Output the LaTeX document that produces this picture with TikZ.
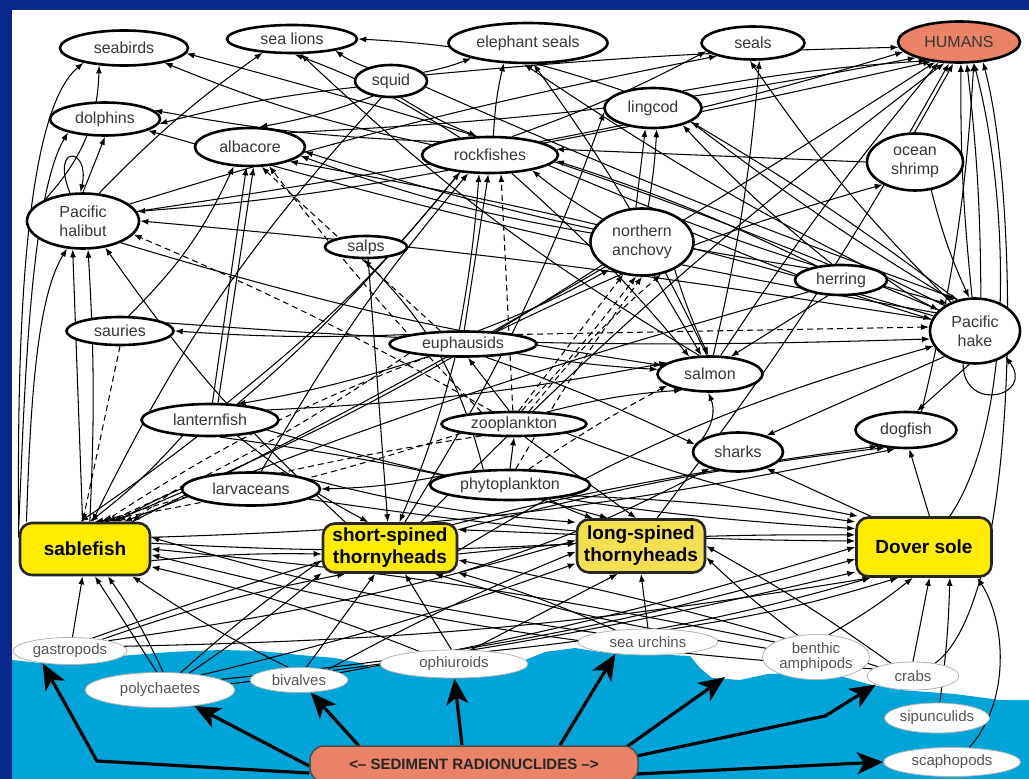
\documentclass[tikz,border=0pt]{standalone}
\usepackage{fontspec}
\setmainfont{Liberation Sans}
\usetikzlibrary{shapes.geometric,arrows.meta,calc}
\pgfdeclarelayer{bgzero}
\pgfdeclarelayer{edgelayer}
\pgfsetlayers{bgzero,edgelayer,main}
\definecolor{frameblue}{RGB}{10,40,140}
\definecolor{sea}{RGB}{0,165,215}
\definecolor{yel}{RGB}{255,236,0}
\definecolor{yeltwo}{RGB}{242,224,80}
\definecolor{salm}{RGB}{233,130,102}
\definecolor{txt}{RGB}{55,55,55}
\definecolor{btxt}{RGB}{85,85,85}
\begin{document}
\begin{tikzpicture}[x=1pt,y=-1pt,
  sp/.style={ellipse,draw=black,line width=2.6pt,fill=white,inner sep=0pt,text=txt,font=\fontsize{16}{19}\selectfont,align=center},
  bn/.style={ellipse,draw=gray!60,line width=0.8pt,fill=white,inner sep=0pt,text=btxt,font=\fontsize{15}{15}\selectfont,align=center},
  fb/.style={rectangle,rounded corners=12pt,draw=black!85,line width=2.6pt,fill=yel,inner sep=0pt,font=\bfseries\fontsize{19}{22}\selectfont,align=center},
  ar/.style={line width=1.05pt,-{Latex[length=8pt,width=6pt]}},
  dar/.style={ar,dash pattern=on 6pt off 4pt},
  big/.style={line width=3.2pt,line join=round,-{Stealth[length=26pt,width=22pt,inset=7pt]}}]
\useasboundingbox (0,0) rectangle (1029,779);
\begin{pgfonlayer}{bgzero}
\fill[frameblue] (0,0) rectangle (1029,779);
\fill[white] (12,10) rectangle (1029,779);
\fill[sea] (12,779) -- (12,660) -- (40,663) -- (80,661) -- (120,656) -- (170,652) -- (220,650) -- (260,651) -- (300,655) -- (335,658) -- (360,663) -- (372,668) -- (385,662) -- (420,668) -- (470,670) -- (520,662) -- (545,652) -- (575,648) -- (600,652) -- (650,654) -- (690,656) -- (700,668) -- (712,678) -- (740,680) -- (768,674) -- (800,673) -- (840,676) -- (868,684) -- (900,690) -- (955,694) -- (1000,700) -- (1029,700) -- (1029,779) -- cycle;
\end{pgfonlayer}

\path
 node[sp,minimum width=128pt,minimum height=35pt] (seabirds) at (124,48) {seabirds}
 node[sp,minimum width=130pt,minimum height=28pt] (sealions) at (292,39) {sea lions}
 node[sp,minimum width=159pt,minimum height=40pt] (eseals) at (528,43) {elephant seals}
 node[sp,minimum width=103pt,minimum height=33pt] (seals) at (753,43) {seals}
 node[sp,fill=salm,minimum width=122pt,minimum height=41pt] (humans) at (959,42) {HUMANS}
 node[sp,minimum width=72pt,minimum height=32pt] (squid) at (391,81) {squid}
 node[sp,minimum width=110pt,minimum height=33pt] (dolphins) at (105,119) {dolphins}
 node[sp,minimum width=97pt,minimum height=40pt] (lingcod) at (653,108) {lingcod}
 node[sp,minimum width=110pt,minimum height=38pt] (albacore) at (250,147) {albacore}
 node[sp,minimum width=136pt,minimum height=36pt] (rock) at (490,155) {rockfishes}
 node[sp,minimum width=96pt,minimum height=57pt] (shrimp) at (915,162) {ocean\\shrimp}
 node[sp,minimum width=112pt,minimum height=55pt] (halibut) at (83,221) {Pacific\\halibut}
 node[sp,minimum width=82pt,minimum height=22pt] (salps) at (366,247) {salps}
 node[sp,minimum width=103pt,minimum height=67pt] (anchovy) at (642,242) {northern\\anchovy}
 node[sp,minimum width=92pt,minimum height=30pt] (herring) at (841,280) {herring}
 node[sp,minimum width=90pt,minimum height=65pt] (hake) at (975,331) {Pacific\\hake}
 node[sp,minimum width=107pt,minimum height=28pt] (sauries) at (120,331) {sauries}
 node[sp,minimum width=147pt,minimum height=25pt] (euph) at (463,344) {euphausids}
 node[sp,minimum width=105pt,minimum height=35pt] (salmon) at (710,374) {salmon}
 node[sp,minimum width=137pt,minimum height=32pt] (lantern) at (210,420) {lanternfish}
 node[sp,minimum width=145pt,minimum height=24pt] (zoo) at (514,424) {zooplankton}
 node[sp,minimum width=90pt,minimum height=39pt] (sharks) at (738,452) {sharks}
 node[sp,minimum width=101pt,minimum height=36pt] (dogfish) at (906,430) {dogfish}
 node[sp,minimum width=138pt,minimum height=33pt] (larv) at (251,489) {larvaceans}
 node[sp,minimum width=160pt,minimum height=30pt] (phyto) at (510,485) {phytoplankton}
 node[fb,minimum width=130pt,minimum height=52pt] (sable) at (85,549) {sablefish}
 node[fb,minimum width=134pt,minimum height=49pt] (sst) at (390,548) {short-spined\\thornyheads}
 node[fb,fill=yeltwo,minimum width=128pt,minimum height=53pt] (lst) at (641,546) {long-spined\\thornyheads}
 node[fb,minimum width=135pt,minimum height=59pt] (dover) at (924,547) {Dover sole}
 node[bn,minimum width=114pt,minimum height=27pt] (gastro) at (70,651) {gastropods}
 node[bn,minimum width=150pt,minimum height=35pt] (poly) at (160,690) {polychaetes}
 node[bn,minimum width=98pt,minimum height=25pt] (biv) at (299,680) {bivalves}
 node[bn,minimum width=148pt,minimum height=28pt] (oph) at (454,664) {ophiuroids}
 node[bn,minimum width=140pt,minimum height=26pt] (urch) at (648,642) {sea urchins}
 node[bn,minimum width=107pt,minimum height=45pt] (amph) at (816,657) {benthic\\amphipods}
 node[bn,minimum width=92pt,minimum height=28pt] (crabs) at (913,676) {crabs}
 node[bn,minimum width=97pt,minimum height=30pt] (sip) at (937,718) {sipunculids}
 node[bn,minimum width=137pt,minimum height=29pt] (scaph) at (952,762) {scaphopods}
 node[rectangle,rounded corners=14pt,fill=salm,draw=black!70,line width=1.5pt,minimum width=328pt,minimum height=36pt,font=\bfseries\fontsize{15}{17}\selectfont,text=black!85] (sed) at (474,764) {<-- SEDIMENT RADIONUCLIDES -->};
\coordinate (amtip) at (725,677);

\begin{pgfonlayer}{edgelayer}
\foreach \a/\b/\c in {
 rock.170/seabirds.-20/5, hake.150/seabirds.-5/-4, halibut.150/seabirds.215/-20,
 halibut.60/sealions.205/5, squid.150/sealions.-15/8, rock.150/sealions.-80/-6,
 salmon.120/sealions.-60/6, lingcod.150/sealions.0/-8,
 hake.140/eseals.-100/4, rock.80/eseals.-140/5, salmon.100/eseals.-75/-5, squid.15/eseals.195/-5,
 rock.40/seals.190/-4, halibut.20/seals.200/3, hake.130/seals.-100/5, salmon.80/seals.-70/-4,
 rock.15/humans.190/-3, albacore.20/humans.200/-4, lingcod.30/humans.210/3, halibut.10/humans.215/-2,
 shrimp.100/humans.-115/0, hake.95/humans.-85/3, hake.80/humans.-70/-3, sable.30/humans.220/-3,
 sst.40/humans.-125/4, lst.60/humans.-105/-4, salmon.60/humans.-135/3, dogfish.50/humans.-55/-5,
 squid.10/humans.185/2,
 halibut.90/dolphins.-90/0, rock.165/dolphins.10/4, squid.190/dolphins.-5/-4, hake.155/dolphins.-15/3,
 squid.220/albacore.65/5, sauries.60/albacore.-130/-10, lantern.82/albacore.-100/0, lantern.65/albacore.-80/0,
 anchovy.170/albacore.-10/5, hake.160/albacore.-20/-3, herring.160/albacore.-5/4,
 rock.200/halibut.10/3, hake.165/halibut.0/-2, sable.95/halibut.-110/0, sable.80/halibut.-80/-3, sst.150/halibut.-50/6,
 squid.-60/rock.125/-5, euph.85/rock.-95/0, euph.105/rock.-120/-3, anchovy.150/rock.-20/4,
 herring.150/rock.-5/-4, shrimp.180/rock.5/0, lantern.45/rock.-150/-6, larv.60/rock.-140/5,
 anchovy.100/lingcod.-110/0, anchovy.80/lingcod.-80/-3, herring.120/lingcod.-30/4, hake.120/lingcod.-20/-3,
 sst.60/lingcod.185/-6, euph.20/shrimp.-145/5, euph.40/anchovy.-140/-4,
 anchovy.-70/salmon.115/0, anchovy.-40/salmon.95/-4, herring.-130/salmon.40/0, euph.-10/salmon.175/-3,
 zoo.20/salmon.-150/5, rock.-40/salmon.140/4, lantern.10/salmon.165/-4,
 sharks.160/salmon.-95/-30, hake.-140/sharks.30/0, euph.-30/sharks.170/3, dover.150/sharks.-30/0,
 hake.-100/dogfish.60/0, dover.80/dogfish.-80/0, sable.10/dogfish.-120/-5, sst.15/dogfish.-140/4,
 herring.0/hake.150/-5, shrimp.-60/hake.100/-5, anchovy.10/hake.165/-3, rock.-10/hake.135/-4,
 lingcod.-20/hake.125/-3, squid.-10/hake.118/-2,
 euph.170/sauries.0/3, phyto.150/salps.-100/-15, salps.-80/sst.95/0, zoo.110/euph.-70/0,
 phyto.90/zoo.-90/0, phyto.170/larv.0/5, euph.200/lantern.30/4,
 lantern.-150/sable.80/5, larv.180/sable.40/-4, rock.-150/sable.100/8, anchovy.-150/sable.45/5,
 herring.-160/sable.35/-3, squid.-120/sable.75/-8,
 gastro.80/sable.-95/0, poly.100/sable.-70/0, poly.80/sable.-50/-5, biv.130/sable.-30/4,
 oph.160/sable.-15/-4, crabs.170/sable.-5/5, amph.160/sable.0/-3, urch.170/sable.10/4,
 lantern.-30/sst.130/-5, poly.40/sst.190/3, poly.30/sst.200/-3, gastro.20/sst.210/4,
 biv.60/sst.-120/0, oph.100/sst.-60/0, lst.170/sst.15/0, urch.160/sst.-20/-4,
 amph.170/sst.-30/4, crabs.165/sst.-10/-3, euph.-120/sst.70/4,
 zoo.-50/lst.100/0, poly.20/lst.195/-3, biv.20/lst.185/3, gastro.15/lst.175/-4, oph.40/lst.-130/0,
 urch.90/lst.-90/0, amph.130/lst.-10/3, crabs.150/lst.0/-3, phyto.-20/lst.150/-5, larv.10/lst.160/-5,
 crabs.90/dover.-80/0, sip.80/dover.-50/-3, amph.60/dover.-110/-4, urch.30/dover.-130/-4,
 oph.20/dover.-150/-5, poly.10/dover.190/-5, poly.5/dover.200/-3, gastro.5/dover.210/-4,
 biv.10/dover.180/-3, sst.-5/dover.170/3, lantern.-10/dover.165/-6, sst.-40/hake.-160/8,
 larv.-10/dover.175/-4, phyto.-10/dover.160/3, sable.5/lst.178/-3, zoo.-10/dover.155/-5,
 lantern.-60/lst.140/4, sst.-20/sharks.-150/-5, gastro.30/dogfish.-150/6, sable.-10/sst.185/3,
 halibut.-30/salmon.170/-4, sauries.10/hake.-170/-3}
 {\draw[ar] (\a) to[bend left=\c] (\b);}

\foreach \a/\b/\c in {
 euph.150/albacore.-60/0, zoo.160/albacore.-45/3, zoo.150/halibut.-15/-3, zoo.95/rock.-60/0,
 zoo.70/anchovy.-120/0, zoo.60/anchovy.-100/-3, phyto.70/anchovy.-90/3, zoo.40/anchovy.-60/5,
 euph.10/hake.175/0, zoo.190/sable.70/4, zoo.200/sable.60/-4, euph.190/sable.50/5,
 sauries.-90/sable.95/0, larv.170/sable.30/-3, phyto.40/salmon.-165/3, euph.-160/sable.55/-6}
 {\draw[dar] (\a) to[bend left=\c] (\b);}

\draw[ar] (sable.170) .. controls (18,420) and (15,120) .. (seabirds.200);
\draw[ar] (sable.155) .. controls (30,420) and (35,300) .. (halibut.-120);
\draw[ar] (sable.160) .. controls (24,420) and (28,200) .. (dolphins.200);
\draw[ar] (dover.50) .. controls (1015,420) and (1010,200) .. (humans.-55);
\draw[ar] (crabs.30) .. controls (1022,600) and (1020,200) .. (humans.-40);
\draw[ar] (scaph.40) .. controls (1012,700) and (1005,620) .. (dover.-30);
\draw[ar] (halibut.115) .. controls +(-20,-50) and +(10,-45) .. (halibut.95);
\draw[ar] (hake.-110) .. controls +(0,50) and +(30,40) .. (hake.-40);

\draw[big] ($(sed.west)+(0,9)$) -- (97,761) -- (gastro.204);
\draw[big] ($(sed.west)+(0,2)$) -- (poly.-25);
\draw[big] ($(sed.north west)+(50,1)$) -- (biv.-47);
\draw[big] ($(sed.north)+(-12,0)$) -- (oph.-88);
\draw[big] ($(sed.north)+(86,0)$) -- (urch.-160);
\draw[big] ($(sed.north east)+(-14,3)$) -- (amtip);
\draw[big] ($(sed.east)+(-2,-8)$) -- (825,716) -- (crabs.-167);
\draw[big] ($(sed.east)+(-2,10)$) -- (scaph.180);
\end{pgfonlayer}
\end{tikzpicture}
\end{document}
